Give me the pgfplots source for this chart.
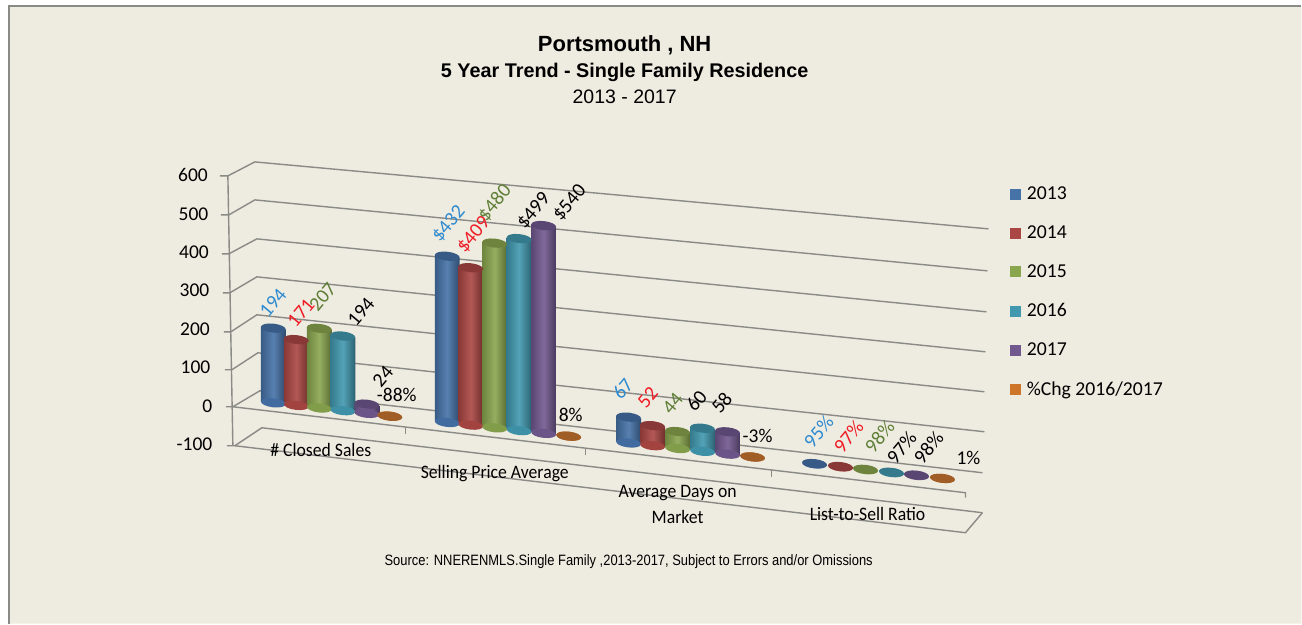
\documentclass[border=0pt]{standalone}
\usepackage{fontspec}
\usepackage{pgfplots}
\pgfplotsset{compat=1.18}
\setmainfont{Liberation Sans}
\newfontfamily\calib{Carlito}

\definecolor{bg}{HTML}{EEEBE0}
\definecolor{wall}{HTML}{8A8A86}
\definecolor{cA}{HTML}{4572A7}
\definecolor{cB}{HTML}{AA4643}
\definecolor{cC}{HTML}{89A54E}
\definecolor{cD}{HTML}{4198AF}
\definecolor{cE}{HTML}{71588F}
\definecolor{cF}{HTML}{C8742E}
\definecolor{lblue}{HTML}{2E8BD0}
\definecolor{lred}{HTML}{EE1C25}
\definecolor{lgreen}{HTML}{5E7F36}

% elliptical end of a cylinder
\pgfdeclareplotmark{cap}{%
  \pgfpathellipse{\pgfpointorigin}{\pgfqpoint{12.5pt}{0pt}}{\pgfqpoint{0pt}{4.5pt}}%
  \pgfusepathqfill}

% one cylinder: x position, value, colour
\newcommand{\cyl}[3]{%
  \pgfmathsetmacro\xa{#1-12.5}%
  \pgfmathsetmacro\xb{#1+12.5}%
  \addplot[only marks,mark=cap,mark options={rotate=-6.5,fill=#3!95!black,draw=none}] coordinates {(#1,0)};
  \addplot[draw=none,left color=#3!80!black,right color=#3!65!black,middle color=#3!90!white]
    coordinates {(\xa,0) (\xb,0) (\xb,#2) (\xa,#2) (\xa,0)};
  \addplot[only marks,mark=cap,mark options={rotate=-6.5,fill=#3!80!black,draw=none}] coordinates {(#1,#2)};
}

% rotated data label in picture pixels
\newcommand{\lab}[4]{\node[rotate=50,text=#3,font=\calib\fontsize{20}{20}\selectfont] at (axis cs:#1,#2) {#4};}
\newcommand{\flab}[3]{\node[text=black,font=\calib\fontsize{19.5}{19.5}\selectfont] at (axis cs:#1,#2) {#3};}
\newcommand{\catl}[3]{\node[text=black,font=\calib\fontsize{19}{19}\selectfont] at (axis cs:#1,#2) {\scalebox{0.93}[1]{#3}};}

\pgfplotsset{pxaxis/.style={at={(0,0)},anchor=south west,scale only axis,
  width=1302pt,height=624pt,xmin=0,xmax=1302,ymin=0,ymax=624,y dir=reverse,
  hide axis,clip=false}}

\begin{document}
\begin{tikzpicture}

% background, frame, walls and floor
\begin{axis}[pxaxis]
\addplot[fill=white,draw=none] coordinates {(0,0) (1302,0) (1302,624) (0,624) (0,0)};
\addplot[fill=bg,draw=none] coordinates {(9,6) (1302,6) (1302,624) (9,624) (9,6)};
\addplot[draw=wall,line width=1.5pt] coordinates {(9,624) (9,6) (1302,6)};

\addplot[draw=wall,line width=1.4pt] coordinates {(220,176) (228,176) (255,162) (989,229)};
\addplot[draw=wall,line width=1.4pt] coordinates {(221,215) (229,215) (255,200) (988,271)};
\addplot[draw=wall,line width=1.4pt] coordinates {(222,254) (229,254) (257,239) (987,312)};
\addplot[draw=wall,line width=1.4pt] coordinates {(223,293) (230,293) (257,277) (986,352)};
\addplot[draw=wall,line width=1.4pt] coordinates {(224,332) (231,332) (257,315) (985,392)};
\addplot[draw=wall,line width=1.4pt] coordinates {(225,370) (232,370) (258,353) (985,432)};
\addplot[draw=wall,line width=1.4pt] coordinates {(226,407) (233,407) (260,391) (983,473)};
\addplot[draw=wall,line width=1.4pt] coordinates {(227,446) (235,446) (262,428) (983,513)};
\addplot[draw=wall,line width=1.4pt] coordinates {(228,176) (233,446)};
\addplot[draw=wall,line width=1.4pt] coordinates {(233,407) (966,493) (966,498)};
\addplot[draw=wall,line width=1.4pt] coordinates {(235,446) (966,533) (983,513)};
\addplot[draw=wall,line width=1.1pt] coordinates {(406,427) (406,434)};
\addplot[draw=wall,line width=1.1pt] coordinates {(586,448) (586,455)};
\addplot[draw=wall,line width=1.1pt] coordinates {(772,470) (772,477)};
\end{axis}

% value scale and cylinders: x in picture pixels, y in chart values
\begin{axis}[
    at={(228pt,102.62pt)},anchor=south west,
    x={(1pt,-0.113pt)},y={(0pt,0.385pt)},
    xmin=228,xmax=980,ymin=-100,ymax=600,
    clip=false,
    axis x line=none,axis y line*=left,
    y axis line style={draw=none},
    tick style={draw=none},
    ytick={-100,0,100,200,300,400,500,600},
    yticklabels={-100,\kern1pt 0,100\kern2pt,200\kern2.5pt,300\kern3pt,400\kern3.5pt,500\kern4pt,600\kern4.5pt},
    yticklabel style={font=\calib\fontsize{19.5}{19.5}\selectfont,text=black,anchor=east,xshift=-12pt,yshift=-8.5pt},
]
\cyl{273.5}{194}{cA}
\cyl{296.5}{171}{cB}
\cyl{319.5}{207}{cC}
\cyl{343}{194}{cD}
\cyl{367}{24}{cE}
\cyl{390}{-0.88}{cF}

\cyl{447.5}{432}{cA}
\cyl{471}{409}{cB}
\cyl{495}{480}{cC}
\cyl{519.5}{499}{cD}
\cyl{544}{540}{cE}
\cyl{569}{0.08}{cF}

\cyl{629}{67}{cA}
\cyl{653}{52}{cB}
\cyl{678}{44}{cC}
\cyl{703}{60}{cD}
\cyl{728}{58}{cE}
\cyl{753}{-0.03}{cF}

\cyl{815}{0.95}{cA}
\cyl{841}{0.97}{cB}
\cyl{866}{0.98}{cC}
\cyl{892}{0.97}{cD}
\cyl{917}{0.98}{cE}
\cyl{943}{0.01}{cF}
\end{axis}

% texts and legend
\begin{axis}[pxaxis,
    legend style={at={(axis cs:1010,187)},anchor=north west,draw=none,fill=none,
      font=\calib\fontsize{19.7}{19.7}\selectfont,row sep=24.6pt,inner sep=0pt,
      nodes={inner sep=0pt}},
    legend cell align=left,
    legend image code/.code={\fill[draw=none,#1] (0pt,-5.5pt) rectangle (11pt,5.5pt);\path (17pt,0pt);},
]
\addlegendimage{fill=cA}\addlegendentry{2013}
\addlegendimage{fill=cB}\addlegendentry{2014}
\addlegendimage{fill=cC}\addlegendentry{2015}
\addlegendimage{fill=cD}\addlegendentry{2016}
\addlegendimage{fill=cE}\addlegendentry{2017}
\addlegendimage{fill=cF!90!orange}\addlegendentry{\%Chg 2016/2017}

\node[font=\bfseries\fontsize{22}{22}\selectfont] at (axis cs:625,45) {Portsmouth , NH};
\node[font=\bfseries\fontsize{19.8}{19.8}\selectfont] at (axis cs:625,72) {5 Year Trend - Single Family Residence};
\node[font=\fontsize{19.5}{19.5}\selectfont] at (axis cs:625,97) {2013 - 2017};
\node[font=\fontsize{15}{15}\selectfont] at (axis cs:629,562) {\scalebox{0.862}[1]{Source: NNERENMLS.Single Family ,2013-2017, Subject to Errors and/or Omissions}};

\catl{321}{450}{\# Closed Sales}
\catl{495}{474}{Selling Price Average}
\catl{678}{493}{Average Days on}
\catl{678}{517}{Market}
\catl{868}{514}{List-to-Sell Ratio}

\lab{273}{303}{lblue}{194}
\lab{301}{313}{lred}{171}
\lab{323}{297}{lgreen}{207}
\lab{361}{312}{black}{194}
\lab{383}{377}{black}{24}
\flab{397}{395}{-88\%}

\lab{449}{224}{lblue}{\$432}
\lab{474}{235}{lred}{\$409}
\lab{495}{203}{lgreen}{\$480}
\lab{534}{211}{black}{\$499}
\lab{570}{203}{black}{\$540}
\flab{571}{415}{8\%}

\lab{623}{389}{lblue}{67}
\lab{648}{398}{lred}{52}
\lab{673}{404}{lgreen}{44}
\lab{697}{401}{black}{60}
\lab{722}{403}{black}{58}
\flab{758}{436}{-3\%}

\lab{819}{432}{lblue}{95\%}
\lab{849}{437}{lred}{97\%}
\lab{880}{437}{lgreen}{98\%}
\lab{902}{448}{black}{97\%}
\lab{929}{448}{black}{98\%}
\flab{969}{458}{1\%}
\end{axis}
\end{tikzpicture}
\end{document}
